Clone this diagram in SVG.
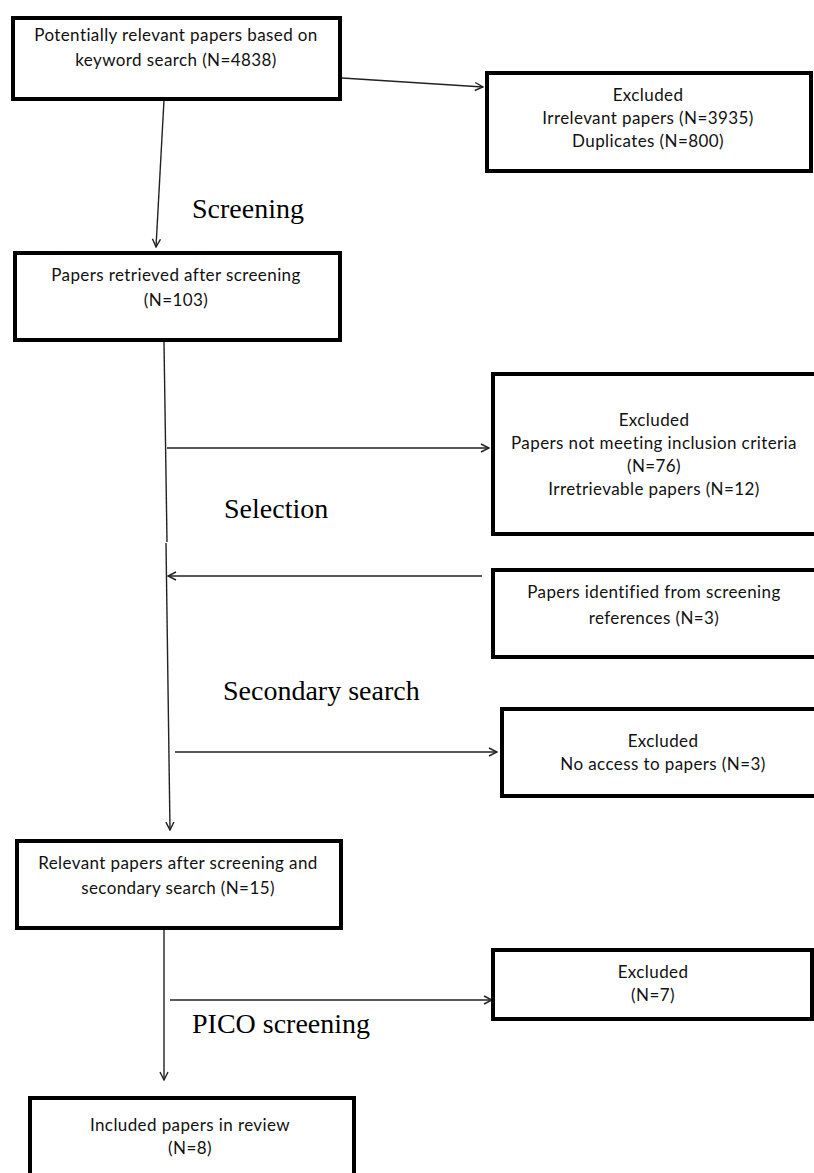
<svg xmlns="http://www.w3.org/2000/svg" width="814" height="1173" viewBox="0 0 814 1173">
<style>
.box{fill:#fff;stroke:#000;stroke-width:4}
.t{font-family:Lato,"Liberation Sans",sans-serif;font-size:17px;letter-spacing:0.4px;fill:#111;text-anchor:middle}
.lbl{font-family:"Liberation Serif","Times New Roman",serif;font-size:28px;fill:#000}
.c{fill:none;stroke:#222;stroke-width:1.4}
</style>
<defs>
<marker id="ah" viewBox="0 0 10 10" refX="9" refY="5" markerWidth="10" markerHeight="10" markerUnits="userSpaceOnUse" orient="auto">
<path d="M1,1 L9,5 L1,9" fill="none" stroke="#222" stroke-width="1.4"/>
</marker>
</defs>
<rect width="814" height="1173" fill="#fff"/>
<g id="connectors">
<line class="c" x1="342" y1="78" x2="483" y2="87" marker-end="url(#ah)"/>
<line class="c" x1="164" y1="100" x2="156" y2="247" marker-end="url(#ah)"/>
<line class="c" x1="164" y1="342" x2="167" y2="542"/>
<line class="c" x1="166" y1="543" x2="170" y2="830" marker-end="url(#ah)"/>
<line class="c" x1="167" y1="448" x2="489" y2="448" marker-end="url(#ah)"/>
<line class="c" x1="482" y1="576" x2="168" y2="576" marker-end="url(#ah)"/>
<line class="c" x1="175" y1="752" x2="497" y2="752" marker-end="url(#ah)"/>
<line class="c" x1="164" y1="926" x2="164" y2="1080" marker-end="url(#ah)"/>
<line class="c" x1="170" y1="1000" x2="492" y2="1000" marker-end="url(#ah)"/>
</g>
<g id="n1">
<rect class="box" x="13" y="18" width="327" height="81"/>
<text class="t" x="176" y="41">Potentially relevant papers based on</text>
<text class="t" x="176" y="66">keyword search (N=4838)</text>
</g>
<g id="n2">
<rect class="box" x="487" y="73" width="324" height="98"/>
<text class="t" x="648" y="101">Excluded</text>
<text class="t" x="648" y="124">Irrelevant papers (N=3935)</text>
<text class="t" x="648" y="147">Duplicates (N=800)</text>
</g>
<text class="lbl" x="192" y="218">Screening</text>
<g id="n3">
<rect class="box" x="15" y="253" width="325" height="87"/>
<text class="t" x="176" y="281">Papers retrieved after screening</text>
<text class="t" x="176" y="306">(N=103)</text>
</g>
<g id="n4">
<rect class="box" x="493" y="374" width="324" height="160"/>
<text class="t" x="654" y="426">Excluded</text>
<text class="t" x="654" y="449">Papers not meeting inclusion criteria</text>
<text class="t" x="654" y="472">(N=76)</text>
<text class="t" x="654" y="495">Irretrievable papers (N=12)</text>
</g>
<text class="lbl" x="224" y="518">Selection</text>
<g id="n5">
<rect class="box" x="493" y="570" width="324" height="87"/>
<text class="t" x="654" y="598">Papers identified from screening</text>
<text class="t" x="654" y="624">references (N=3)</text>
</g>
<text class="lbl" x="223" y="700">Secondary search</text>
<g id="n6">
<rect class="box" x="502" y="709" width="315" height="87"/>
<text class="t" x="663" y="747">Excluded</text>
<text class="t" x="663" y="770">No access to papers (N=3)</text>
</g>
<g id="n7">
<rect class="box" x="17" y="841" width="324" height="87"/>
<text class="t" x="178" y="869">Relevant papers after screening and</text>
<text class="t" x="178" y="894">secondary search (N=15)</text>
</g>
<g id="n8">
<rect class="box" x="493" y="950" width="319" height="69"/>
<text class="t" x="653" y="978">Excluded</text>
<text class="t" x="653" y="1001">(N=7)</text>
</g>
<text class="lbl" x="192" y="1033">PICO screening</text>
<g id="n9">
<rect class="box" x="30" y="1098" width="324" height="90"/>
<text class="t" x="190" y="1131">Included papers in review</text>
<text class="t" x="190" y="1154">(N=8)</text>
</g>
</svg>
